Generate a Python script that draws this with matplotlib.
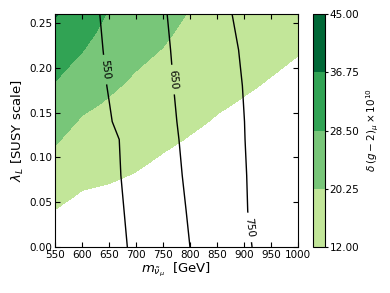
import matplotlib
matplotlib.use("Agg")
import matplotlib.pyplot as plt
import numpy as np

# grid for delta(g-2)_mu x 1e10
m_grid = [550, 600, 650, 700, 750, 800, 850, 900, 950, 1000]
lam_grid = [0.00, 0.02, 0.04, 0.06, 0.08, 0.10, 0.12, 0.14, 0.16, 0.18, 0.20, 0.22, 0.24, 0.26]
delta_amu = [
    [7.1, 5.9, 6.0, 5.8, 4.65, 4.8, 4.3, 3.9, 3.45, 3.1],
    [9.5, 7.8, 7.7, 7.3, 6.05, 5.9, 5.3, 4.9, 4.35, 3.9],
    [11.8, 9.8, 9.4, 8.8, 7.45, 7.1, 6.4, 5.9, 5.25, 4.7],
    [14.1, 11.7, 11.1, 10.2, 8.85, 8.2, 7.4, 6.8, 6.15, 5.6],
    [16.4, 13.6, 12.8, 11.7, 10.25, 9.4, 8.5, 7.8, 7.05, 6.4],
    [18.7, 15.6, 14.5, 13.2, 11.65, 10.6, 9.5, 8.7, 7.95, 7.2],
    [21.0, 17.5, 16.2, 14.7, 13.05, 11.7, 10.5, 9.7, 8.85, 8.1],
    [23.4, 19.5, 17.9, 16.1, 14.45, 12.9, 11.6, 10.7, 9.75, 8.9],
    [25.7, 21.7, 19.6, 17.6, 15.85, 14.0, 12.6, 11.6, 10.65, 9.8],
    [28.0, 24.0, 21.25, 19.1, 17.25, 15.2, 13.7, 12.6, 11.55, 10.6],
    [30.3, 26.4, 22.9, 20.5, 18.65, 16.3, 14.7, 13.5, 12.45, 11.4],
    [32.6, 28.8, 24.6, 22.0, 20.05, 17.5, 15.7, 14.5, 13.35, 12.3],
    [35.0, 31.1, 26.2, 23.5, 21.45, 18.6, 16.8, 15.5, 14.25, 13.1],
    [37.3, 33.5, 27.9, 25.0, 22.85, 19.8, 17.8, 16.4, 15.15, 14.0],
]
fill_levels = [12.00, 20.25, 28.50, 36.75, 45.00]
fill_colors = ["#c2e699", "#78c679", "#31a354", "#006837"]

# grid for the mass contour lines
lam_mass = [0.00, 0.04, 0.08, 0.12, 0.14, 0.18, 0.22, 0.26]
mass_field = [
    [434.5, 477.6, 520.7, 563.8, 606.9, 650.0, 693.5, 737.0, 780.4, 823.9],
    [438.7, 482.2, 525.7, 569.1, 612.6, 656.1, 700.0, 743.9, 787.7, 831.6],
    [442.0, 486.3, 530.5, 574.8, 619.0, 662.5, 704.2, 745.8, 787.5, 829.2],
    [440.8, 486.7, 532.6, 578.4, 624.3, 667.7, 708.1, 748.4, 788.7, 829.0],
    [460.9, 502.9, 545.0, 587.0, 629.0, 669.8, 709.5, 749.2, 788.9, 828.6],
    [472.0, 512.6, 553.3, 593.9, 634.6, 674.2, 713.3, 752.3, 791.4, 830.5],
    [478.8, 518.8, 558.8, 598.8, 638.8, 678.6, 718.3, 757.9, 797.6, 837.3],
    [483.6, 523.6, 563.6, 603.6, 643.6, 685.0, 726.7, 768.3, 810.0, 851.7],
]
line_levels = [550, 650, 750]
label_pos = [(643, 0.198), (772, 0.187), (913, 0.022)]

x_ticks = [550, 600, 650, 700, 750, 800, 850, 900, 950, 1000]
y_ticks = [0.00, 0.05, 0.10, 0.15, 0.20, 0.25]

plt.rcParams.update({
    "xtick.direction": "in", "ytick.direction": "in",
    "xtick.top": True, "ytick.right": True,
    "xtick.major.size": 3.5, "ytick.major.size": 3.5,
    "font.family": "DejaVu Sans",
})

fig = plt.figure(figsize=(3.9, 2.93), dpi=100)
ax = fig.add_axes([0.141, 0.157, 0.623, 0.795])
cax = fig.add_axes([0.803, 0.157, 0.031, 0.795])

cf = ax.contourf(m_grid, lam_grid, np.array(delta_amu), levels=fill_levels, colors=fill_colors)
cs = ax.contour(m_grid, lam_mass, np.array(mass_field), levels=line_levels, colors="black", linewidths=1.0)
ax.clabel(cs, fmt="%d", fontsize=7.5, inline=True, manual=label_pos)

ax.set_xlim(550, 1000)
ax.set_ylim(0, 0.26)
ax.set_xticks(x_ticks)
ax.set_yticks(y_ticks)
ax.yaxis.set_major_formatter(matplotlib.ticker.FormatStrFormatter("%.2f"))
ax.tick_params(labelsize=7.5, pad=2)
ax.set_xlabel(r"$m_{\tilde{\nu}_\mu}$  [GeV]", fontsize=9.5, labelpad=1)
ax.set_ylabel(r"$\lambda_L$ [SUSY scale]", fontsize=9.5, labelpad=2)

cb = fig.colorbar(cf, cax=cax, ticks=fill_levels, format="%.2f")
cb.ax.tick_params(labelsize=7.5, direction="out", length=2, pad=1)
cb.set_label(r"$\delta\,(g-2)_\mu\times 10^{10}$", fontsize=7.5, labelpad=4)
cb.outline.set_linewidth(0.8)

fig.savefig("out.png", dpi=100, facecolor="white")
